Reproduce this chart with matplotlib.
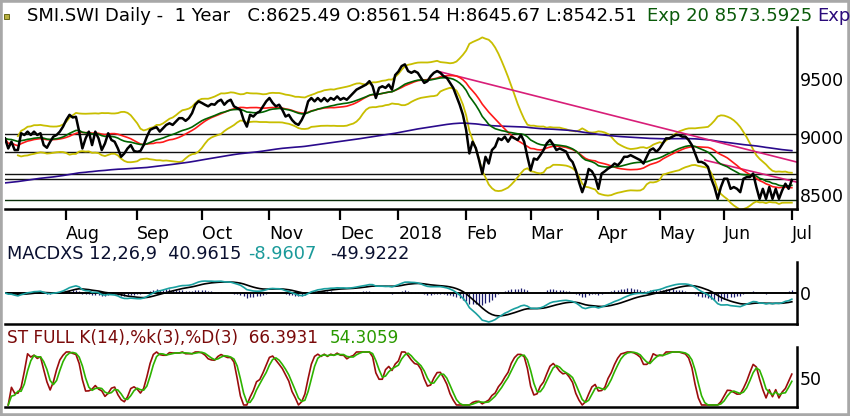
import matplotlib
matplotlib.use("Agg")
import matplotlib.pyplot as plt
from matplotlib.patches import Rectangle
import numpy as np
import pandas as pd

# daily closes, Jul 2017 -> Jul 2018
close = [
    8984, 8897, 8955, 8883, 8883, 9028, 9013, 9042, 9013, 9042,
    9013, 9028, 8926, 8903, 8955, 8999, 9013, 9042, 9085, 9143,
    9187, 9164, 9170, 9042, 8897, 8984, 9042, 8926, 9042, 8984,
    8883, 8940, 9028, 8970, 8955, 8897, 8825, 8854, 8897, 8926,
    8875, 8868, 8875, 8926, 8999, 9057, 9071, 9080, 9042, 9071,
    9100, 9114, 9100, 9129, 9158, 9158, 9135, 9158, 9201, 9274,
    9303, 9290, 9274, 9260, 9280, 9274, 9303, 9317, 9274, 9303,
    9317, 9260, 9245, 9230, 9143, 9085, 9187, 9172, 9201, 9216,
    9260, 9303, 9332, 9290, 9260, 9274, 9230, 9172, 9187, 9143,
    9114, 9100, 9143, 9201, 9303, 9332, 9303, 9332, 9303, 9332,
    9303, 9332, 9317, 9346, 9317, 9332, 9317, 9346, 9375, 9404,
    9419, 9433, 9448, 9477, 9433, 9332, 9419, 9433, 9419, 9448,
    9404, 9530, 9560, 9607, 9622, 9564, 9549, 9564, 9549, 9506,
    9462, 9477, 9520, 9549, 9564, 9549, 9520, 9506, 9462, 9419,
    9346, 9274, 9187, 9057, 8854, 8955, 8900, 8796, 8680, 8825,
    8767, 8883, 8912, 8984, 8970, 8999, 8955, 8999, 8984, 8970,
    9013, 8955, 8825, 8709, 8810, 8800, 8839, 8883, 8941, 8970,
    8930, 8883, 8897, 8883, 8870, 8810, 8780, 8709, 8607, 8520,
    8600, 8720, 8700, 8650, 8549, 8680, 8700, 8723, 8740, 8767,
    8752, 8781, 8825, 8825, 8839, 8825, 8810, 8796, 8767, 8825,
    8883, 8897, 8868, 8897, 8941, 8984, 8984, 8999, 9013, 9013,
    8999, 8999, 8970, 8926, 8854, 8781, 8781, 8767, 8738, 8636,
    8564, 8462, 8564, 8636, 8636, 8549, 8564, 8549, 8520, 8636,
    8650, 8650, 8680, 8564, 8462, 8549, 8462, 8564, 8462, 8549,
    8462, 8535, 8593, 8549, 8625,
]
month_labels = ["Aug", "Sep", "Oct", "Nov", "Dec", "2018",
                "Feb", "Mar", "Apr", "May", "Jun", "Jul"]
month_idx = [19, 41, 61, 82, 104, 122, 143, 163, 184, 203, 223, 244]
level_lines = [9020, 8870, 8680, 8630, 8455]
ema200_seed = 8596
# trend lines: (start day, start price, end day, end price)
trend_lines = [(134, 9564, 245.5, 8780), (217, 8796, 245.5, 8607)]

W, H = 850, 416


def fx(x):
    return x / W


def fy(y):
    return 1 - y / H


def axes_box(x0, y0, x1, y1):
    return [fx(x0), fy(y1), fx(x1) - fx(x0), fy(y0) - fy(y1)]


s = pd.Series(close, dtype=float)
n = len(s)
days = np.arange(n)

ema20 = s.ewm(span=20, adjust=False).mean()
sma20 = s.rolling(20, min_periods=1).mean()
std20 = s.rolling(20, min_periods=5).std(ddof=0)
upper = sma20 + 2 * std20
lower = sma20 - 2 * std20
ema200 = (pd.concat([pd.Series([float(ema200_seed)]), s], ignore_index=True)
          .ewm(span=200, adjust=False).mean().iloc[1:].to_numpy())

macd = s.ewm(span=12, adjust=False).mean() - s.ewm(span=26, adjust=False).mean()
signal = macd.ewm(span=9, adjust=False).mean()
hist = macd - signal

lo14 = s.rolling(14, min_periods=1).min()
hi14 = s.rolling(14, min_periods=1).max()
raw_k = 100 * (s - lo14) / (hi14 - lo14).replace(0, np.nan)
pct_k = raw_k.rolling(3, min_periods=1).mean()
pct_d = pct_k.rolling(3, min_periods=1).mean()

fig = plt.figure(figsize=(8.5, 4.16), dpi=100)
fig.patch.set_facecolor("white")
fig.patches.append(Rectangle((0, 0), 1, 1, transform=fig.transFigure,
                             fill=False, edgecolor="#a8a8a8", linewidth=4))

xmax = 245.6


def style(ax):
    for side in ("top", "left"):
        ax.spines[side].set_visible(False)
    for side in ("bottom", "right"):
        ax.spines[side].set_linewidth(1.8)
        ax.spines[side].set_color("black")
    ax.set_xlim(0, xmax)
    ax.yaxis.tick_right()
    ax.tick_params(axis="y", length=0, pad=2, labelsize=12.5)


# price panel
ax = fig.add_axes(axes_box(5, 27, 797, 209))
style(ax)
for i, lv in enumerate(level_lines):
    ax.axhline(lv, color="#0a2e0a" if i == len(level_lines) - 1 else "#111111", lw=1.0)
ax.plot(days, upper, color="#c8be00", lw=1.3)
ax.plot(days, lower, color="#c8be00", lw=1.3)
ax.plot(days, ema200, color="#2a0a8c", lw=1.2)
for x0, y0, x1, y1 in trend_lines:
    ax.plot([x0, x1], [y0, y1], color="#d81e78", lw=1.2)
ax.plot(days, sma20, color="#ff1a1a", lw=1.2)
ax.plot(days, ema20, color="#006400", lw=1.2)
ax.plot(days, close, color="black", lw=1.8)
ax.set_ylim(8375, 9944)
ax.set_yticks([8500, 9000, 9500])
ax.set_xticks(month_idx)
ax.set_xticklabels(month_labels, fontsize=12.5)
for lab in ax.get_xticklabels():
    lab.set_ha("left")
ax.tick_params(axis="x", direction="out", length=8, width=1.6, pad=3.5)

# MACD panel
ax2 = fig.add_axes(axes_box(5, 262, 797, 324))
style(ax2)
ax2.vlines(days, 0, hist, color="#1a1a6e", lw=0.9)
ax2.axhline(0, color="black", lw=1.4)
ax2.plot(days, signal, color="black", lw=1.2)
ax2.plot(days, macd, color="#1aa0a0", lw=1.2)
lim = abs(macd.min()) * 31 / 29
ax2.set_ylim(-lim, lim)
ax2.set_yticks([0])
ax2.set_xticks([])

# stochastic panel
ax3 = fig.add_axes(axes_box(5, 347, 797, 407))
style(ax3)
ax3.plot(days, pct_k, color="#9b0d0d", lw=1.2)
ax3.plot(days, pct_d, color="#2db300", lw=1.2)
ax3.set_ylim(-3.8, 109.4)
ax3.set_yticks([50])
ax3.set_xticks([])

# header texts
fig.patches.append(Rectangle((fx(4), fy(19)), fx(5), 5 / H, transform=fig.transFigure,
                             facecolor="#b8b040", edgecolor="#555500", linewidth=0.6))
fig.text(fx(27), fy(16), "SMI.SWI Daily -  1 Year   C:8625.49 O:8561.54 H:8645.67 L:8542.51",
         fontsize=13, va="center", color="black")
fig.text(fx(647), fy(16), "Exp 20 8573.5925", fontsize=13, va="center", color="#0a5a0a")
fig.text(fx(817), fy(16), "Exp", fontsize=13, va="center", color="#2a0a7a")

fig.text(fx(7), fy(254), "MACDXS 12,26,9  40.9615", fontsize=12.8, va="center", color="#0a1030")
fig.text(fx(248), fy(254), "-8.9607", fontsize=12.8, va="center", color="#1a9a9a")
fig.text(fx(330), fy(254), "-49.9222", fontsize=12.8, va="center", color="#0a1030")

fig.text(fx(7), fy(338), "ST FULL K(14),%k(3),%D(3)  66.3931", fontsize=12.2, va="center", color="#7a0a0a")
fig.text(fx(330), fy(338), "54.3059", fontsize=12.2, va="center", color="#2a9a00")

fig.savefig("out.png", dpi=100)
